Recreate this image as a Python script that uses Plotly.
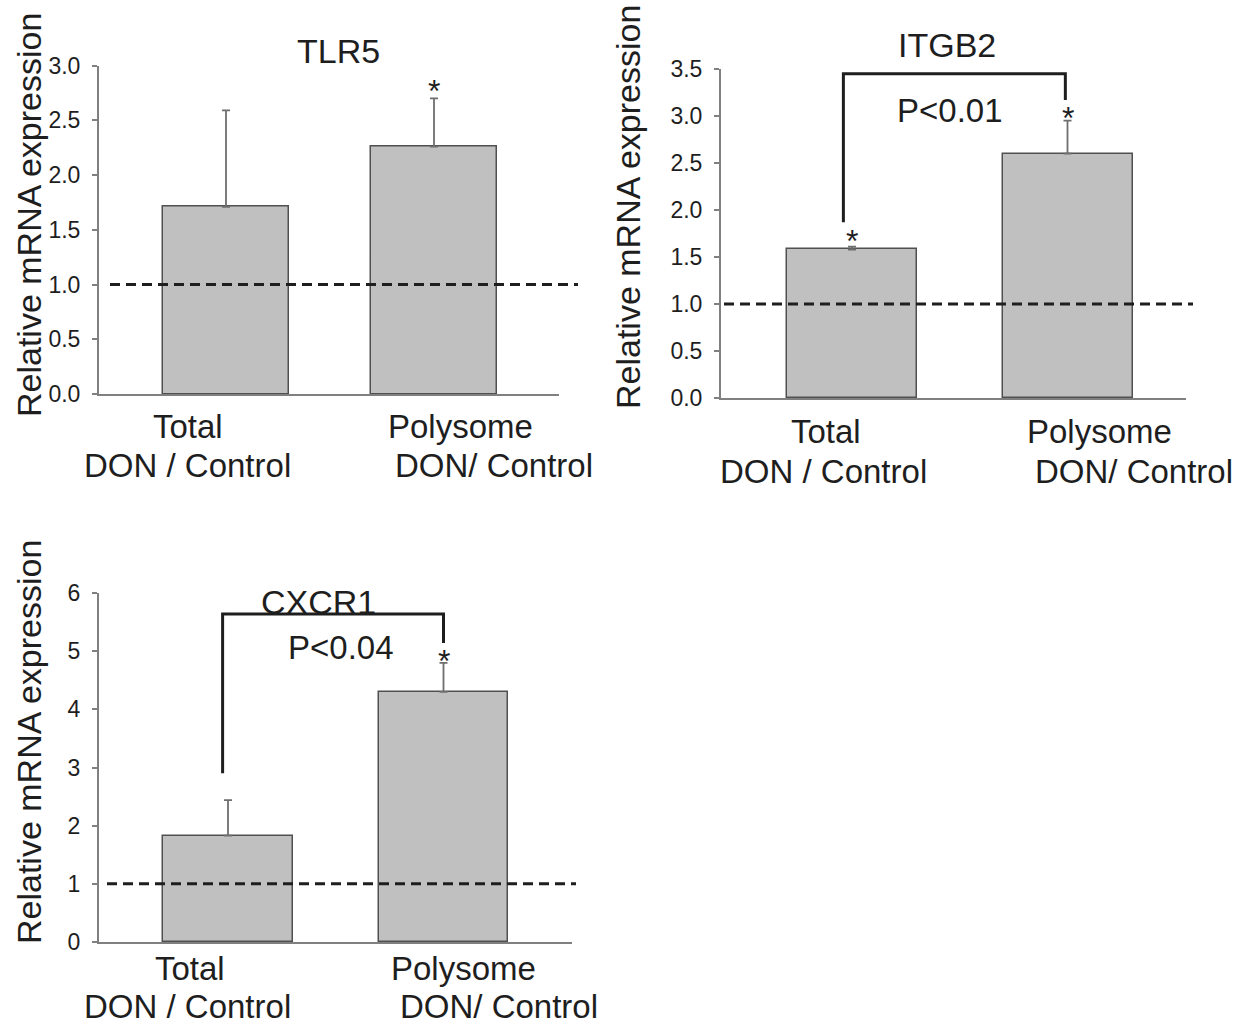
import plotly.graph_objects as go

W, H = 1247, 1027

# ---------------- data ----------------
categories = ["Total", "Polysome"]
label_line1 = ["Total", "Polysome"]
label_line2 = ["DON / Control", "DON/ Control"]
y_title = "Relative mRNA expression"

tlr5_values = [1.71, 2.26]
tlr5_err_top = [2.59, 2.70]
tlr5_star = [None, 2.84]
tlr5_ticks = [0.0, 0.5, 1.0, 1.5, 2.0, 2.5, 3.0]

itgb2_values = [1.58, 2.60]
itgb2_err_top = [1.61, 2.95]
itgb2_star = [1.755, 3.06]
itgb2_ticks = [0.0, 0.5, 1.0, 1.5, 2.0, 2.5, 3.0, 3.5]
itgb2_bracket = [1.87, 3.45, 3.17]   # left bottom, top, right bottom
itgb2_p = "P<0.01"

cxcr1_values = [1.83, 4.30]
cxcr1_err_top = [2.44, 4.80]
cxcr1_star = [None, 4.97]
cxcr1_ticks = [0, 1, 2, 3, 4, 5, 6]
cxcr1_bracket = [2.90, 5.64, 5.14]
cxcr1_p = "P<0.04"

reference_level = 1.0

# ---------------- style / layout geometry (pixels) ----------------
FONT = "Liberation Sans, Arial, sans-serif"
TXT = "#1e1e1e"
BAR_FILL = "#c0c0c0"
BAR_LINE = "#505050"
AXIS_COL = "#808080"
ERR_COL = "#6e6e6e"
BIG = 33

panels = [
    dict(title="TLR5", values=tlr5_values, err=tlr5_err_top, star=tlr5_star,
         ticks=tlr5_ticks, fmt=".1f", bracket=None, p=None,
         ax_left=99, ax_right=559, dash_left=110, dash_right=578,
         top_px=65.5, base_px=394, centers=(226, 434), bar_w=126,
         title_xy=(338, 51), p_xy=None,
         lab1_x=(188, 460), lab2_x=(187, 494), lab_y=(426, 465), ytitle_xy=(29, 215)),
    dict(title="ITGB2", values=itgb2_values, err=itgb2_err_top, star=itgb2_star,
         ticks=itgb2_ticks, fmt=".1f", bracket=itgb2_bracket, p=itgb2_p,
         ax_left=721, ax_right=1186, dash_left=724, dash_right=1193,
         top_px=69, base_px=398, centers=(852, 1067.5), bar_w=130,
         title_xy=(947, 45), p_xy=(950, 110), bracket_dx=(-0.04, -0.01),
         lab1_x=(826, 1099), lab2_x=(823, 1134), lab_y=(432, 472), ytitle_xy=(628, 207)),
    dict(title="CXCR1", values=cxcr1_values, err=cxcr1_err_top, star=cxcr1_star,
         ticks=cxcr1_ticks, fmt="d", bracket=cxcr1_bracket, p=cxcr1_p,
         ax_left=99, ax_right=572, dash_left=107, dash_right=576,
         top_px=593, base_px=942, centers=(228, 443.5), bar_w=129.5,
         title_xy=(318, 602), p_xy=(341, 647), bracket_dx=(-0.025, 0.0),
         lab1_x=(190, 463), lab2_x=(187, 499), lab_y=(968, 1006), ytitle_xy=(29, 742)),
]


def fx(p):
    return p / W


def fy(p):
    return 1 - p / H


fig = go.Figure()
shapes = []
annotations = []
layout_axes = {}

for i, pn in enumerate(panels):
    n = "" if i == 0 else str(i + 1)
    xa, ya = "x" + n, "y" + n
    c0, c1 = pn["centers"]
    unit = c1 - c0
    xr = [(pn["ax_left"] - c0) / unit, (pn["ax_right"] - c0) / unit]
    yr = [pn["ticks"][0], pn["ticks"][-1]]

    fig.add_trace(go.Bar(
        x=[0, 1], y=pn["values"], xaxis=xa, yaxis=ya,
        width=pn["bar_w"] / unit,
        marker=dict(color=BAR_FILL, line=dict(color=BAR_LINE, width=1.5)),
        error_y=dict(type="data", symmetric=False,
                     array=[e - v for e, v in zip(pn["err"], pn["values"])],
                     arrayminus=[0, 0], color=ERR_COL, thickness=1.8, width=4),
        showlegend=False, hoverinfo="skip",
    ))

    layout_axes["xaxis" + n] = dict(
        domain=[fx(pn["ax_left"]), fx(pn["ax_right"])], range=xr, automargin=False,
        anchor=ya, showline=True, linecolor=AXIS_COL, linewidth=2,
        showticklabels=False, ticks="", showgrid=False, zeroline=False,
        fixedrange=True,
    )
    layout_axes["yaxis" + n] = dict(
        domain=[fy(pn["base_px"]), fy(pn["top_px"])], range=yr, automargin=False,
        anchor=xa, showline=True, linecolor=AXIS_COL, linewidth=2,
        ticks="outside", ticklen=5, tickwidth=1.5, tickcolor=AXIS_COL,
        tickvals=pn["ticks"], tickformat=pn["fmt"], ticklabelstandoff=7,
        tickfont=dict(family=FONT, size=23, color=TXT),
        showgrid=False, zeroline=False, fixedrange=True,
    )

    # reference dashed line at 1
    shapes.append(dict(type="line", xref="paper", yref=ya,
                       x0=fx(pn["dash_left"]), x1=fx(pn["dash_right"]),
                       y0=reference_level, y1=reference_level,
                       line=dict(color=TXT, width=3, dash="10px,6px"), layer="above"))

    # significance bracket
    if pn["bracket"]:
        lb, top, rb = pn["bracket"]
        dl, dr = pn["bracket_dx"]
        shapes.append(dict(type="path", xref=xa, yref=ya,
                           path=f"M {0 + dl},{lb} L {0 + dl},{top} L {1 + dr},{top} L {1 + dr},{rb}",
                           line=dict(color=TXT, width=3)))

    # stars
    for k, s in enumerate(pn["star"]):
        if s is not None:
            annotations.append(dict(x=k, y=s, xref=xa, yref=ya, text="*", showarrow=False,
                                    xanchor="center", yanchor="middle", yshift=-8,
                                    font=dict(family=FONT, size=32, color=TXT)))

    # title
    tx, ty = pn["title_xy"]
    annotations.append(dict(x=fx(tx), y=fy(ty), xref="paper", yref="paper", text=pn["title"],
                            showarrow=False, xanchor="center", yanchor="middle",
                            font=dict(family=FONT, size=34, color=TXT)))
    if pn["p"]:
        px_, py_ = pn["p_xy"]
        annotations.append(dict(x=fx(px_), y=fy(py_), xref="paper", yref="paper", text=pn["p"],
                                showarrow=False, xanchor="center", yanchor="middle",
                                font=dict(family=FONT, size=BIG, color=TXT)))

    # category labels
    for k in range(2):
        annotations.append(dict(x=fx(pn["lab1_x"][k]), y=fy(pn["lab_y"][0]), xref="paper", yref="paper",
                                text=label_line1[k], showarrow=False, xanchor="center", yanchor="middle",
                                font=dict(family=FONT, size=BIG, color=TXT)))
        annotations.append(dict(x=fx(pn["lab2_x"][k]), y=fy(pn["lab_y"][1]), xref="paper", yref="paper",
                                text=label_line2[k], showarrow=False, xanchor="center", yanchor="middle",
                                font=dict(family=FONT, size=BIG, color=TXT)))

    # y title
    yx, yy = pn["ytitle_xy"]
    annotations.append(dict(x=fx(yx), y=fy(yy), xref="paper", yref="paper", text=y_title,
                            textangle=-90, showarrow=False, xanchor="center", yanchor="middle",
                            font=dict(family=FONT, size=34, color=TXT)))

fig.update_layout(
    template="none",
    width=W, height=H, margin=dict(l=0, r=0, t=0, b=0, autoexpand=False),
    paper_bgcolor="white", plot_bgcolor="white",
    shapes=shapes, annotations=annotations, bargap=0,
    **layout_axes,
)

fig.write_html("out.html", config={"displayModeBar": False})
